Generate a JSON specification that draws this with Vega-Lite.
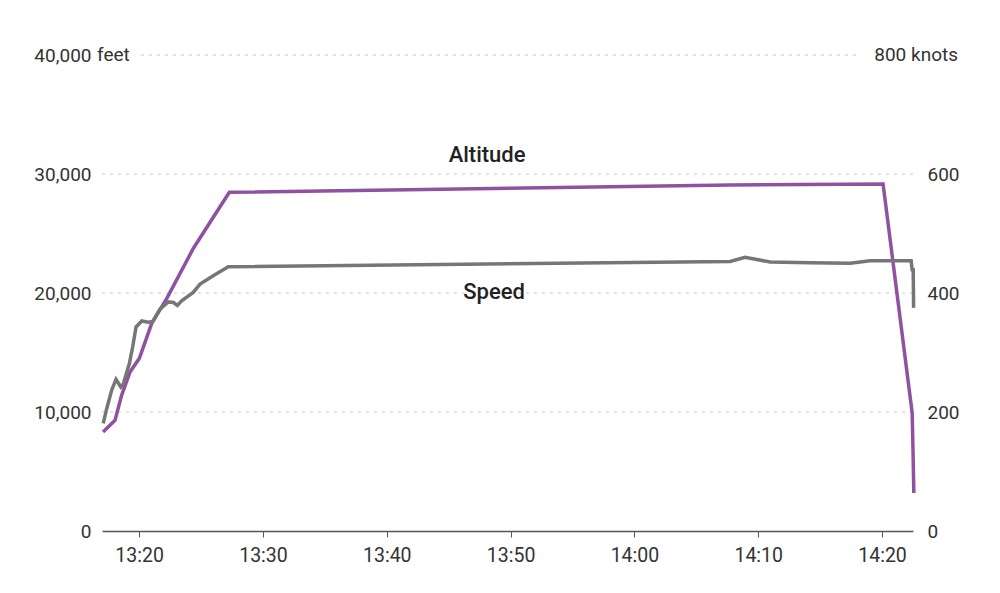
{
  "$schema": "https://vega.github.io/schema/vega-lite/v6.json",
  "width": 811,
  "height": 476,
  "autosize": {"type": "none"},
  "padding": {"left": 102, "top": 55, "right": 87, "bottom": 62},
  "background": "white",
  "config": {
    "view": {"stroke": null},
    "axis": {"labelFontSize": 19, "labelColor": "#333333", "labelFont": "Roboto"}
  },
  "datasets": {
    "alt": [
      {"time": "2015-03-24T13:17:05", "altitude": 8320},
      {"time": "2015-03-24T13:18:03", "altitude": 9300},
      {"time": "2015-03-24T13:18:35", "altitude": 11400},
      {"time": "2015-03-24T13:19:16", "altitude": 13370},
      {"time": "2015-03-24T13:20:01", "altitude": 14510},
      {"time": "2015-03-24T13:21:01", "altitude": 17450},
      {"time": "2015-03-24T13:22:14", "altitude": 19550},
      {"time": "2015-03-24T13:24:23", "altitude": 23760},
      {"time": "2015-03-24T13:27:17", "altitude": 28460},
      {"time": "2015-03-24T14:07:44", "altitude": 29070},
      {"time": "2015-03-24T14:20:05", "altitude": 29160},
      {"time": "2015-03-24T14:22:26", "altitude": 9920},
      {"time": "2015-03-24T14:22:30", "altitude": 6810},
      {"time": "2015-03-24T14:22:34", "altitude": 3190}
    ],
    "spd": [
      {"time": "2015-03-24T13:17:06", "speed": 181},
      {"time": "2015-03-24T13:17:23", "speed": 206},
      {"time": "2015-03-24T13:17:47", "speed": 237},
      {"time": "2015-03-24T13:18:08", "speed": 255},
      {"time": "2015-03-24T13:18:31", "speed": 242},
      {"time": "2015-03-24T13:18:43", "speed": 247},
      {"time": "2015-03-24T13:19:13", "speed": 282},
      {"time": "2015-03-24T13:19:29", "speed": 310},
      {"time": "2015-03-24T13:19:45", "speed": 343},
      {"time": "2015-03-24T13:20:13", "speed": 353},
      {"time": "2015-03-24T13:20:44", "speed": 351},
      {"time": "2015-03-24T13:21:06", "speed": 352},
      {"time": "2015-03-24T13:21:41", "speed": 373},
      {"time": "2015-03-24T13:22:21", "speed": 385},
      {"time": "2015-03-24T13:22:46", "speed": 384},
      {"time": "2015-03-24T13:23:05", "speed": 379},
      {"time": "2015-03-24T13:23:26", "speed": 387},
      {"time": "2015-03-24T13:24:22", "speed": 401},
      {"time": "2015-03-24T13:24:55", "speed": 415},
      {"time": "2015-03-24T13:25:59", "speed": 429},
      {"time": "2015-03-24T13:27:12", "speed": 444},
      {"time": "2015-03-24T14:07:44", "speed": 453},
      {"time": "2015-03-24T14:08:56", "speed": 460},
      {"time": "2015-03-24T14:10:58", "speed": 452},
      {"time": "2015-03-24T14:14:11", "speed": 451},
      {"time": "2015-03-24T14:17:25", "speed": 450},
      {"time": "2015-03-24T14:19:02", "speed": 454},
      {"time": "2015-03-24T14:22:21", "speed": 454},
      {"time": "2015-03-24T14:22:26", "speed": 439},
      {"time": "2015-03-24T14:22:31", "speed": 439},
      {"time": "2015-03-24T14:22:33", "speed": 375}
    ],
    "grid": [
      {"time": "2015-03-24T13:17:00", "t2": "2015-03-24T14:22:30", "v": 10000},
      {"time": "2015-03-24T13:17:00", "t2": "2015-03-24T14:22:30", "v": 20000},
      {"time": "2015-03-24T13:17:00", "t2": "2015-03-24T14:22:30", "v": 30000},
      {"time": "2015-03-24T13:20:08", "t2": "2015-03-24T14:18:10", "v": 40000}
    ]
  },
  "layer": [
    {
      "layer": [
        {
          "data": {"name": "grid"},
          "mark": {"type": "rule", "color": "#c8c8c8", "strokeDash": [3, 5], "strokeWidth": 1},
          "encoding": {
            "x": {"field": "time", "type": "temporal"},
            "x2": {"field": "t2"},
            "y": {"field": "v", "type": "quantitative"}
          }
        },
        {
          "data": {"name": "alt"},
          "mark": {"type": "line", "color": "#8e52a1", "strokeWidth": 3.5},
          "encoding": {
            "x": {
              "field": "time",
              "type": "temporal",
              "scale": {
                "domain": [
                  {"year": 2015, "month": 3, "date": 24, "hours": 13, "minutes": 17, "seconds": 0},
                  {"year": 2015, "month": 3, "date": 24, "hours": 14, "minutes": 22, "seconds": 30}
                ]
              },
              "axis": {
                "title": null,
                "format": "%H:%M",
                "values": [
                  {"year": 2015, "month": 3, "date": 24, "hours": 13, "minutes": 20},
                  {"year": 2015, "month": 3, "date": 24, "hours": 13, "minutes": 30},
                  {"year": 2015, "month": 3, "date": 24, "hours": 13, "minutes": 40},
                  {"year": 2015, "month": 3, "date": 24, "hours": 13, "minutes": 50},
                  {"year": 2015, "month": 3, "date": 24, "hours": 14, "minutes": 0},
                  {"year": 2015, "month": 3, "date": 24, "hours": 14, "minutes": 10},
                  {"year": 2015, "month": 3, "date": 24, "hours": 14, "minutes": 20}
                ],
                "grid": false,
                "domainColor": "#555555",
                "domainWidth": 1.5,
                "tickColor": "#555555",
                "tickSize": 6,
                "labelPadding": 9,
                "labelFontSize": 19.5
              }
            },
            "y": {
              "field": "altitude",
              "type": "quantitative",
              "scale": {"domain": [0, 40000], "nice": false},
              "axis": {
                "orient": "left",
                "title": null,
                "values": [0, 10000, 20000, 30000, 40000],
                "format": ",d",
                "domain": false,
                "ticks": false,
                "grid": false,
                "labelAlign": "right",
                "labelPadding": 11
              }
            }
          }
        },
        {
          "data": {"values": [{"time": "2015-03-24T13:17:00", "v": 40000, "label": "feet"}]},
          "mark": {"type": "text", "font": "Roboto", "fontSize": 19, "color": "#333333", "align": "left", "baseline": "middle", "dx": -5},
          "encoding": {
            "x": {"field": "time", "type": "temporal"},
            "y": {"field": "v", "type": "quantitative"},
            "text": {"field": "label"}
          }
        },
        {
          "data": {"values": [{"time": "2015-03-24T13:48:06", "v": 31600, "label": "Altitude"}]},
          "mark": {"type": "text", "font": "Roboto", "fontSize": 22, "fontWeight": 500, "color": "#222222", "align": "center", "baseline": "middle"},
          "encoding": {
            "x": {"field": "time", "type": "temporal"},
            "y": {"field": "v", "type": "quantitative"},
            "text": {"field": "label"}
          }
        }
      ]
    },
    {
      "layer": [
        {
          "data": {"name": "spd"},
          "mark": {"type": "line", "color": "#767676", "strokeWidth": 3.5},
          "encoding": {
            "x": {"field": "time", "type": "temporal"},
            "y": {
              "field": "speed",
              "type": "quantitative",
              "scale": {"domain": [0, 800], "nice": false},
              "axis": {
                "orient": "right",
                "title": null,
                "values": [0, 200, 400, 600],
                "format": "d",
                "domain": false,
                "ticks": false,
                "grid": false,
                "labelAlign": "left",
                "labelPadding": 14
              }
            }
          }
        },
        {
          "data": {"values": [{"time": "2015-03-24T14:22:30", "v": 800, "label": "800 knots"}]},
          "mark": {"type": "text", "font": "Roboto", "fontSize": 19, "color": "#333333", "align": "right", "baseline": "middle", "dx": 45},
          "encoding": {
            "x": {"field": "time", "type": "temporal"},
            "y": {"field": "v", "type": "quantitative"},
            "text": {"field": "label"}
          }
        },
        {
          "data": {"values": [{"time": "2015-03-24T13:48:40", "v": 402, "label": "Speed"}]},
          "mark": {"type": "text", "font": "Roboto", "fontSize": 22, "fontWeight": 500, "color": "#222222", "align": "center", "baseline": "middle"},
          "encoding": {
            "x": {"field": "time", "type": "temporal"},
            "y": {"field": "v", "type": "quantitative"},
            "text": {"field": "label"}
          }
        }
      ]
    }
  ],
  "resolve": {"scale": {"y": "independent"}}
}
